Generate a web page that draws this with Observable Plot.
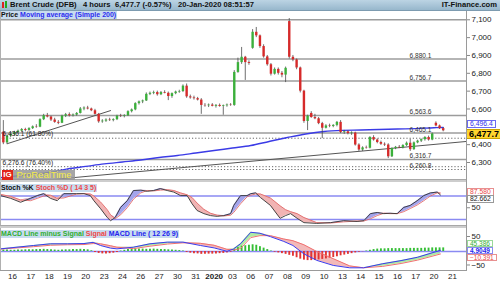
<!DOCTYPE html>
<html><head><meta charset="utf-8">
<script src="https://cdn.jsdelivr.net/npm/d3@7"></script>
<script src="https://cdn.jsdelivr.net/npm/@observablehq/plot@0.6"></script>
<style>
html,body{margin:0;padding:0;background:#fff;}
#c{position:relative;width:500px;height:281px;overflow:hidden;font-family:"Liberation Sans",Arial,sans-serif;background:#fff;}
#c div.a{position:absolute;white-space:nowrap;}
.hdr{left:0;top:0;width:500px;height:10px;background:linear-gradient(#bcd4e4,#97b7cc);border-bottom:1px solid #7d9bb0;}
.ht{font-weight:bold;font-size:7.6px;line-height:10px;top:0;color:#111;}
.lbl{font-size:7px;font-weight:bold;line-height:8px;background:rgba(190,214,236,0.85);padding:0 1px;}
.rb{font-size:6.8px;line-height:6px;padding:0 2px;background:#fff;}
</style></head><body><div id="c"></div>
<script>
// ---------------- data ----------------
const dayLabels = ["16","17","18","19","20","23","24","26","27","30","31","2020","03","06","07","08","09","10","13","14","15","16","17","20","21"];
// 4-hour candles [open, high, low, close], 5 per day (first three are the end of 13 Dec)
const ohlc = [
 [6470,6535,6400,6410],[6410,6455,6400,6448],[6448,6465,6440,6458],
 [6458,6475,6450,6468],[6468,6482,6460,6476],[6476,6490,6470,6485],[6485,6492,6472,6480],[6480,6495,6475,6490],
 [6490,6505,6485,6500],[6500,6512,6492,6498],[6498,6545,6495,6540],[6540,6570,6535,6562],[6562,6575,6550,6555],
 [6555,6560,6530,6538],[6538,6548,6520,6525],[6525,6535,6512,6520],[6520,6565,6518,6560],[6560,6575,6552,6568],
 [6568,6578,6555,6562],[6562,6572,6555,6566],[6566,6580,6560,6575],[6575,6608,6572,6600],[6600,6612,6590,6605],
 [6605,6615,6595,6600],[6600,6605,6585,6590],[6590,6598,6565,6570],[6570,6575,6520,6528],[6528,6540,6520,6532],
 [6532,6545,6525,6538],[6538,6548,6530,6535],[6535,6545,6528,6540],[6540,6565,6535,6560],[6560,6570,6552,6558],
 [6558,6568,6550,6562],[6562,6590,6558,6585],[6585,6600,6578,6595],[6595,6635,6590,6630],[6630,6645,6622,6640],
 [6640,6650,6630,6645],[6645,6690,6642,6682],[6682,6695,6675,6688],[6688,6700,6680,6692],[6692,6700,6672,6680],
 [6680,6698,6675,6692],[6692,6702,6685,6688],[6688,6695,6647,6670],[6670,6690,6660,6686],[6686,6700,6680,6695],
 [6695,6705,6688,6698],[6698,6735,6692,6728],[6728,6740,6660,6668],[6668,6678,6655,6662],[6662,6672,6650,6658],
 [6658,6665,6645,6650],[6650,6658,6570,6620],[6620,6630,6610,6618],[6618,6628,6608,6622],[6622,6630,6612,6615],
 [6615,6625,6605,6620],[6620,6628,6610,6614],[6614,6622,6565,6618],[6618,6628,6610,6622],[6622,6630,6615,6620],
 [6620,6815,6615,6805],[6805,6885,6800,6860],[6860,6945,6850,6890],[6890,6895,6760,6860],[6860,6870,6845,6855],
 [6940,7045,6935,7030],[7030,7057,7000,7010],[7010,7015,6940,6950],[6950,6960,6885,6892],[6892,6900,6840,6848],
 [6848,6855,6785,6795],[6795,6830,6790,6822],[6822,6830,6790,6800],[6800,6810,6775,6790],[6790,6835,6748,6828],
 [7090,7107,6880,6890],[6890,6900,6865,6875],[6875,6880,6820,6830],[6830,6835,6690,6700],[6700,6705,6520,6530],
 [6530,6565,6479,6560],[6575,6585,6548,6552],[6552,6570,6540,6545],[6545,6552,6512,6518],[6518,6525,6434,6492],
 [6492,6512,6488,6505],[6505,6515,6495,6502],[6502,6512,6495,6508],[6508,6530,6500,6525],[6525,6535,6462,6468],
 [6468,6480,6458,6472],[6472,6478,6455,6462],[6462,6472,6452,6465],[6465,6470,6392,6398],[6398,6405,6362,6370],
 [6370,6388,6362,6382],[6382,6392,6375,6380],[6380,6445,6376,6440],[6440,6450,6420,6426],[6426,6432,6405,6412],
 [6412,6420,6396,6402],[6402,6410,6390,6398],[6398,6405,6322,6332],[6332,6382,6328,6378],[6378,6390,6372,6385],
 [6385,6395,6378,6382],[6382,6400,6376,6395],[6395,6415,6390,6408],[6408,6430,6362,6372],[6372,6415,6368,6410],
 [6410,6425,6405,6420],[6420,6432,6412,6428],[6428,6445,6420,6440],[6440,6448,6420,6426],[6426,6465,6422,6460],
 [6520,6528,6500,6505],[6505,6510,6485,6490],[6490,6495,6472,6477.7]
];
// MACD histogram, one bar per candle
const histValues = [
 6,6,5,
 5,6,6,7,7, 7,8,8,9,8, 7,6,5,6,7, 7,8,8,9,8, 7,3,-4,-8,-10,
 -10,-9,-7,-4,2, 5,8,10,11,10, 10,9,9,10,9, 8,8,7,6,5, 4,2,-4,-7,-9,
 -10,-12,-12,-11,-11, -10,-9,-8,-6,-3, 8,16,22,24,26, 28,26,20,14,8,
 2,-3,-6,-9,-12, -16,-20,-26,-32,-36, -38,-38,-37,-35,-33, -31,-28,-25,-22,-18,
 -15,-12,-9,-6,-3, -1,2,5,8,10, 11,11,12,12,12, 12,12,12,13,13, 13,13,14,14,15,
 15,15,15
];
// Simple moving average 200
const maDays   = [-0.65,0,1,2,3,4,5,6,7,8,9,10,11,12,13,14,15,16,17,18,19,20,21,22,23,23.5];
const maValues = [6215,6222,6233,6244,6264,6278,6292,6303,6314,6328,6339,6353,6367,6381,6395,6418,6440,6460,6474,6480,6482,6485,6488,6490,6495,6496.4];
// horizontal levels
const levelsSolid  = [7100, 6880.1, 6756.7, 6563.6, 6465.1, 6316.7];
const levelsDotted = [6436.1, 6276.6, 6260.8];
const fibLevels = [6436.1, 6276.6];
const fibLabels = ["6,436.1 (61.80%)", "6,276.6 (76.40%)"];
// trend lines
const trendShortDays = [-0.27, 5.35], trendShortValues = [6406, 6591];
const trendLongDays  = [1.5, 24.77],  trendLongValues  = [6198, 6418];
// Stochastic
const stochDays = [-0.65,-0.1,0.44,0.98,1.35,1.7,2.07,2.44,2.8,3.5,3.9,4.25,4.44,4.8,5.17,5.35,5.6,5.9,6.26,6.6,7.0,7.35,7.7,8.07,8.44,8.8,9.17,9.53,9.8,10.07,10.44,10.8,11.17,11.53,11.9,12.07,12.44,12.8,13.0,13.26,13.53,14.07,14.6,14.9,15.17,15.53,15.9,16.6,17.35,18.07,18.8,19.17,19.53,19.9,20.26,20.6,20.99,21.35,21.7,22.08,22.44,22.8,23.17,23.35];
const stochK = [81,74,64,74,81,86,74,68,86,86,86,81,68,48,25,17,25,51,68,94,95,92,94,99,94,90,81,81,60,43,35,30,28,30,35,56,81,81,86,88,76,56,23,30,35,23,12,10,12,17,15,17,35,38,35,36,35,51,56,68,81,88,90,82.662];
const stochD = [84,79,70,68,74,80,82,74,75,85,86,85,80,65,45,32,22,32,50,72,88,94,93,95,96,94,88,83,76,62,46,36,31,29,31,38,60,78,82,85,85,75,55,45,40,35,25,12,11,14,16,16,22,30,36,35,35,40,48,57,68,80,88,87.58];
// MACD ( 12 26 9)
const macdDays   = [-0.65,1.15,2.07,3.0,3.9,4.4,4.8,5.35,5.7,6.6,7.5,8.45,9.3,10.25,11.0,11.7,12.05,12.44,13.0,13.5,14.07,14.8,15.3,15.9,16.6,17.5,18.4,19.15,20.2,21.2,22.1,23.35];
const macdLine   = [11,25,32,32,33,38,25,14,11,18,32,39,39,25,15,1,10,32,80,76,62,42,25,-10,-37,-58,-68,-68,-51,-38,-24,4.9049];
const macdSignal = [10,20,26,28,29,33,32,24,18,12,22,31,36,34,26,9,6,12,58,66,66,52,45,28,0,-30,-60,-68,-62,-50,-36,-10.391];
const histLast = 45.386;

// ---------------- build ----------------
const root = document.getElementById("c");
function div(cls, html, css) { const e = document.createElement("div"); e.className = "a " + (cls||""); e.innerHTML = html; Object.assign(e.style, css||{}); root.appendChild(e); return e; }
function mount(svg, top) { const w = document.createElement("div"); w.className = "a"; w.style.left = "0px"; w.style.top = top + "px"; w.appendChild(svg); root.appendChild(w); }

const XD = [-0.655, 24.77];
const font = {fontFamily: "Liberation Sans, Arial, sans-serif", fontSize: "8px", background: "transparent", color: "#222", overflow: "visible"};
const candles = ohlc.map((r, j) => ({d: -0.5 + 0.2 * j, o: r[0], h: r[1], l: r[2], c: r[3]}));
const hist = histValues.map((v, j) => ({d: -0.5 + 0.2 * j, v}));
const ma = maDays.map((d, i) => ({d, v: maValues[i]}));
const tShort = trendShortDays.map((d, i) => ({d, v: trendShortValues[i]}));
const tLong = trendLongDays.map((d, i) => ({d, v: trendLongValues[i]}));
const stoch = stochDays.map((d, i) => ({d, k: stochK[i], s: stochD[i]}));
const macd = macdDays.map((d, i) => ({d, m: macdLine[i], s: macdSignal[i]}));

// header
div("hdr", "");
div("", "", {left:"2px", top:"2px", width:"2px", height:"6px", background:"#d22"});
div("", "", {left:"5px", top:"1px", width:"2px", height:"7px", background:"#2a2"});
div("ht", "Brent Crude (DFB)", {left:"10px"});
div("ht", "4 hours", {left:"83px"});
div("ht", "6,477.7 (-0.57%)", {left:"115px"});
div("ht", "20-Jan-2020 08:51:57", {left:"178px"});
div("ht", "IT-Finance.com", {right:"3px"});

// price panel
const price = Plot.plot({
  width: 500, height: 169, marginLeft: 0, marginRight: 34, marginTop: 0, marginBottom: 0,
  style: font,
  x: {domain: XD, axis: null},
  y: {domain: [6204.7, 7152.1], axis: null},
  marks: [
    Plot.ruleY(levelsSolid, {stroke: "#9c9c9c", strokeWidth: 1.6}),
    Plot.ruleY(levelsDotted, {stroke: "#666", strokeWidth: 1, strokeDasharray: "1.2,2"}),
    Plot.line(tLong, {x: "d", y: "v", stroke: "#555", strokeWidth: 1, clip: true}),
    Plot.line(tShort, {x: "d", y: "v", stroke: "#555", strokeWidth: 1, clip: true}),
    Plot.line(ma, {x: "d", y: "v", stroke: "#3b3be6", strokeWidth: 1.4, curve: "monotone-x", clip: true}),
    Plot.ruleX(candles, {x: "d", y1: "l", y2: "h", stroke: "#4a4a4a", strokeWidth: 0.8}),
    Plot.ruleX(candles, {x: "d", y1: "o", y2: d => Math.abs(d.c - d.o) < 2 ? d.o + 2 : d.c, stroke: d => d.c >= d.o ? "#3bb03b" : "#d62a2a", strokeWidth: 2.4}),
    Plot.text(levelsSolid.filter(v => v < 7000), {x: XD[1], y: d => d, text: d => d3.format(",.1f")(d), textAnchor: "end", dx: -35, dy: -3.5, fontSize: 6.6, fill: "#333"}),
    Plot.text([levelsDotted[2]], {x: XD[1], y: d => d, text: d => d3.format(",.1f")(d), textAnchor: "end", dx: -35, dy: -3.5, fontSize: 6.6, fill: "#333"}),
    Plot.text(fibLevels, {x: XD[0], y: d => d, text: (d, i) => fibLabels[i], textAnchor: "start", dx: 2, dy: -4, fontSize: 6.6, fill: "#222"}),
    Plot.axisY({anchor: "right", ticks: [6300,6400,6600,6700,6800,6900,7000,7100], tickFormat: d3.format(","), tickSize: 3, tickPadding: 2, label: null, fontSize: 8, stroke: "#888"})
  ]
});
mount(price, 10);
const py = v => 10 + price.scale("y").apply(v);

// labels over the price panel
div("lbl", '<span style="color:#111">Price</span> <span style="color:#2d2df0">Moving average (Simple 200)</span>', {left:"0px", top:"10.5px"});
div("rb", "6,496.4", {left:"467px", top:(py(maValues[maValues.length-1]) - 6.5) + "px", color:"#3030ee", border:"1px solid #6b6bf0"});
div("rb", d3.format(",.1f")(ohlc[ohlc.length-1][3]), {left:"466px", top:(py(ohlc[ohlc.length-1][3]) - 1.5) + "px", background:"#ffd52e", color:"#000", fontWeight:"bold", fontSize:"9px", lineHeight:"8px", border:"1px solid #c9a400"});

// stochastic panel
const stochP = Plot.plot({
  width: 500, height: 44, marginLeft: 0, marginRight: 34, marginTop: 0, marginBottom: 0,
  style: font,
  x: {domain: XD, axis: null},
  y: {domain: [2.13, 114.5], axis: null},
  marks: [
    Plot.ruleY([80, 20], {stroke: "#8a8af2", strokeWidth: 1.4}),
    Plot.areaY(stoch, {x: "d", y1: "s", y2: d => Math.max(d.k, d.s), fill: "#a4a4ec"}),
    Plot.areaY(stoch, {x: "d", y1: "k", y2: d => Math.max(d.k, d.s), fill: "#f1b4b4"}),
    Plot.line(stoch, {x: "d", y: "s", stroke: "#e26a6a", strokeWidth: 0.9}),
    Plot.line(stoch, {x: "d", y: "k", stroke: "#333", strokeWidth: 0.9}),
    Plot.axisY({anchor: "right", ticks: [50], tickSize: 3, tickPadding: 2, label: null, fontSize: 8, stroke: "#888"})
  ]
});
mount(stochP, 182);
const sy = v => 182 + stochP.scale("y").apply(v);
div("lbl", '<span style="color:#111">Stoch %K</span> <span style="color:#f04848">Stoch %D ( 14 3 5)</span>', {left:"0px", top:"184px"});
div("rb", d3.format(".3f")(stochD[stochD.length-1]), {left:"467px", top:(sy(stochD[stochD.length-1]) - 5) + "px", color:"#e84848", border:"1px solid #e89090"});
div("rb", d3.format(".3f")(stochK[stochK.length-1]), {left:"467px", top:(sy(stochK[stochK.length-1]) + 1) + "px", color:"#222", border:"1px solid #999"});

// MACD panel + time axis
const macdP = Plot.plot({
  width: 500, height: 53, marginLeft: 0, marginRight: 34, marginTop: 0, marginBottom: 11,
  style: font,
  x: {domain: XD, axis: null},
  y: {domain: [-79.2, 95.8], axis: null},
  marks: [
    Plot.areaY(macd, {x: "d", y1: "s", y2: d => Math.max(d.m, d.s), fill: "#aeeaa4"}),
    Plot.areaY(macd, {x: "d", y1: "m", y2: d => Math.max(d.m, d.s), fill: "#f3b9b9"}),
    Plot.ruleY([0], {stroke: "#8a8af2", strokeWidth: 1.4}),
    Plot.ruleX(hist, {x: "d", y1: 0, y2: "v", stroke: d => d.v >= 0 ? "#35bf35" : "#e23434", strokeWidth: 1.9}),
    Plot.line(macd, {x: "d", y: "s", stroke: "#f07070", strokeWidth: 1}),
    Plot.line(macd, {x: "d", y: "m", stroke: "#3a3aee", strokeWidth: 1}),
    Plot.axisY({anchor: "right", ticks: [50], tickSize: 3, tickPadding: 2, label: null, fontSize: 8, stroke: "#888", dy: -3}),
    Plot.axisY({anchor: "right", ticks: [-50], tickSize: 3, tickPadding: 2, label: null, fontSize: 8, stroke: "#888", dy: 1.5}),
    Plot.axisX({anchor: "bottom", ticks: d3.range(dayLabels.length), tickFormat: i => dayLabels[i], tickSize: 0, tickPadding: 3, label: null, fontSize: 8})
  ]
});
mount(macdP, 228);
d3.select(macdP).selectAll("text").filter(function(){ return this.textContent === "2020"; }).attr("font-weight", "bold");
const my = v => 228 + macdP.scale("y").apply(v);
div("rb", d3.format(".3f")(histLast), {left:"467px", top:(my(0) - 10.5) + "px", color:"#2fae2f", border:"1px solid #9ad99a", fontSize:"6.5px", lineHeight:"5px"});
div("rb", d3.format(".4f")(macdLine[macdLine.length-1]), {left:"467px", top:(my(0) - 3.8) + "px", color:"#2323ee", fontWeight:"bold", border:"1px solid #8a8af2", fontSize:"6.5px", lineHeight:"5px"});
div("rb", d3.format(".3f")(macdSignal[macdSignal.length-1]), {left:"467px", top:(my(0) + 3) + "px", color:"#e84848", border:"1px solid #e89090", fontSize:"6.5px", lineHeight:"5px"});
div("lbl", '<span style="color:#2fae2f">MACD Line minus Signal</span> <span style="color:#f04848">Signal</span> <span style="color:#2323ee">MACD Line ( 12 26 9)</span>', {left:"0px", top:"229.5px"});

// frame lines & separators
div("", "", {left:"0px", top:"11px", width:"1px", height:"259px", background:"#b0b0b0"});
div("", "", {left:"466px", top:"11px", width:"1px", height:"259px", background:"#9a9a9a"});
div("", "", {left:"0px", top:"179px", width:"466px", height:"2px", background:"#cdcdcd", borderTop:"1px solid #a8a8a8"});
div("", "", {left:"0px", top:"225px", width:"466px", height:"2px", background:"#cdcdcd", borderTop:"1px solid #a8a8a8"});
div("", "", {left:"0px", top:"269.5px", width:"467px", height:"1px", background:"#9a9a9a"});

// ProRealTime logo
div("", "IG", {left:"2px", top:"170px", width:"11px", height:"10px", background:"#e2231a", color:"#fff", fontWeight:"bold", fontSize:"8px", lineHeight:"10px", textAlign:"center"});
div("", "ProRealTime", {left:"13px", top:"170px", width:"62px", height:"10px", background:"rgba(150,150,150,0.85)", color:"#f4ec48", fontSize:"9.5px", lineHeight:"10px", textAlign:"center"});
</script></body></html>
